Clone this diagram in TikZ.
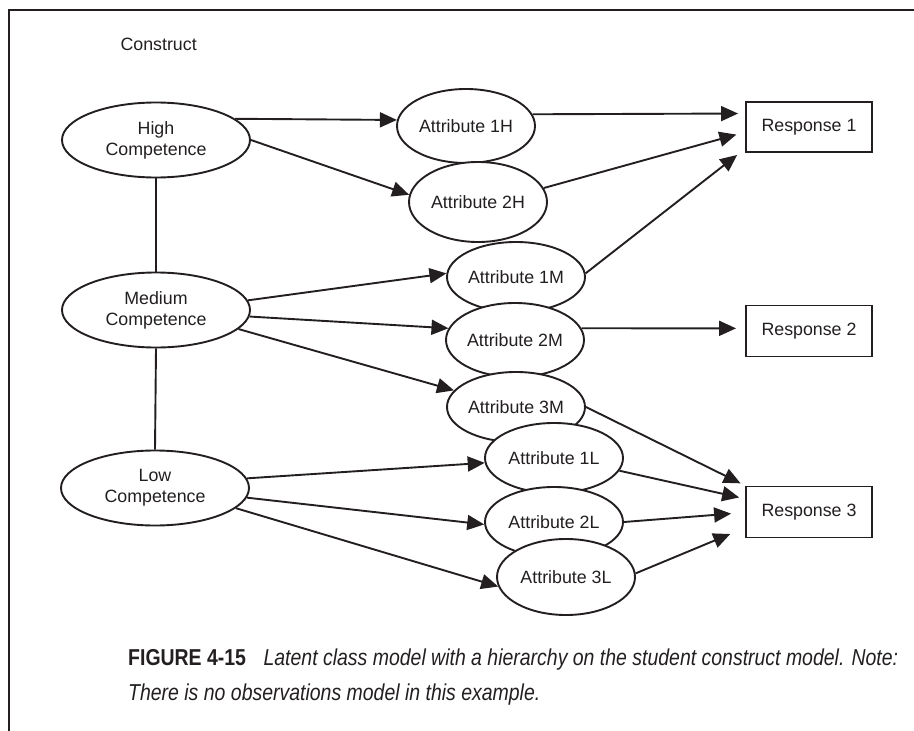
\documentclass[tikz,border=0pt]{standalone}
\usepackage{fontspec}
\setmainfont{Liberation Sans}
\usetikzlibrary{shapes.geometric,arrows.meta,calc}
\definecolor{ink}{HTML}{231F20}
\begin{document}
\begin{tikzpicture}[x=1pt,y=-1pt,
  every node/.style={font=\fontsize{17.8}{21}\selectfont, text=ink},
  oval/.style={ellipse, draw=ink, line width=1.9pt, fill=white, inner sep=0pt, align=center},
  bigoval/.style={oval, minimum width=188pt, minimum height=75pt},
  attoval/.style={oval, minimum width=138pt, minimum height=71pt},
  resp/.style={rectangle, draw=ink, line width=1.9pt, fill=white, minimum width=126pt, minimum height=50pt, inner sep=0pt},
  arr/.style={draw=ink, line width=1.9pt, -{Triangle[length=17pt,width=15pt]}},
  ln/.style={draw=ink, line width=1.9pt}]
\useasboundingbox (0,0) rectangle (914,731);
\draw[draw=ink, line width=1.3pt] (9,731) -- (9,10) -- (914,10);

\node[anchor=west] (construct) at (117,44) {Construct};

% construct levels
\node[bigoval] (high) at (156,140) {High\\Competence};
\node[bigoval] (med) at (156,310) {Medium\\Competence};
\node[bigoval] (low) at (155,488) {Low\\Competence};

% attributes
\node[attoval, minimum height=74pt] (h1) at (466,126) {Attribute 1H};
\node[attoval, minimum height=80pt] (h2) at (478,202) {Attribute 2H};
\node[attoval, minimum height=70pt] (m1) at (516,277) {Attribute 1M};
\node[attoval, minimum height=74pt] (m2) at (515,340) {Attribute 2M};
\node[attoval, minimum height=70pt] (m3) at (516,407) {Attribute 3M};
\node[attoval, minimum height=70pt] (l1) at (554,458) {Attribute 1L};
\node[attoval, minimum height=70pt] (l2) at (554,522) {Attribute 2L};
\node[attoval, minimum height=76pt] (l3) at (566,577) {Attribute 3L};

% responses
\node[resp] (r1) at (809,127) {Response 1};
\node[resp, minimum height=51pt] (r2) at (809,331) {Response 2};
\node[resp, minimum height=51pt] (r3) at (809,512) {Response 3};

% hierarchy
\draw[ln] (high.south) -- (med.north);
\draw[ln] (med.south) -- (low.north);

% construct -> attributes
\draw[arr] (high.15) -- (h1.175);
\draw[arr] (high.east) -- (h2.174);
\draw[arr] (med.6) -- (m1.177);
\draw[arr] (med.-4) -- (m2.170);
\draw[arr] (med.-13) -- (m3.165);
\draw[arr] (low.6) -- (l1.184);
\draw[arr] (low.-6) -- (l2.182);
\draw[arr] (low.-14) -- (l3.188);

% attributes -> responses
\draw[arr, shorten >=7pt] (h1.10) -- ($(r1.north west)!0.24!(r1.south west)$);
\draw[arr, shorten >=9pt] (h2.12) -- ($(r1.north west)!0.6!(r1.south west)$);
\draw[arr, shorten >=10pt] (m1.3) -- ($(r1.north west)!0.92!(r1.south west)$);
\draw[arr, shorten >=9pt] (m2.10) -- ($(r2.north west)!0.45!(r2.south west)$);
\draw[arr, shorten >=5pt] (m3.east) -- (r3.north west);
\draw[arr, shorten >=6pt] (l1.-11) -- ($(r3.north west)!0.25!(r3.south west)$);
\draw[arr, shorten >=14pt] (l2.east) -- ($(r3.north west)!0.51!(r3.south west)$);
\draw[arr, shorten >=16pt] (l3.3) -- ($(r3.north west)!0.8!(r3.south west)$);

% caption
\node[anchor=north west, inner sep=0pt] (caption) at (128,641) {\resizebox{770pt}{\height}{\fontsize{23}{35}\selectfont\color{ink}\begin{tabular}{@{}l@{}}\textbf{FIGURE 4-15}\hspace{0.9em}\textit{Latent class model with a hierarchy on the student construct model. Note:}\\\textit{There is no observations model in this example.}\end{tabular}}};
\end{tikzpicture}
\end{document}
